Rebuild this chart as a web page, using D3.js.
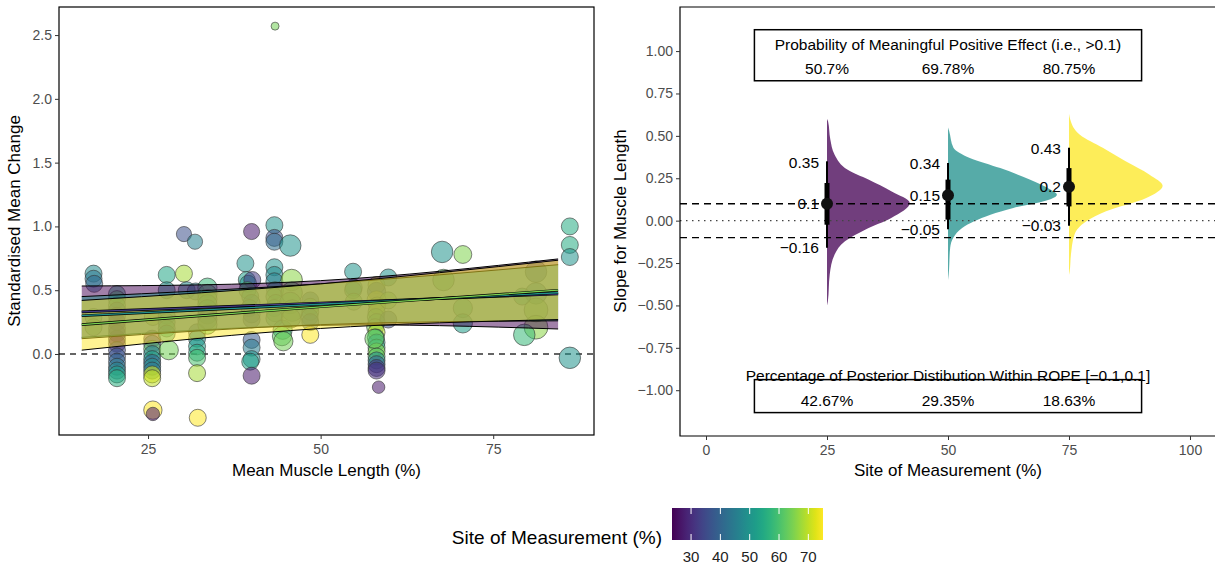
<!DOCTYPE html>
<html>
<head>
<meta charset="utf-8">
<script src="https://cdn.jsdelivr.net/npm/d3@7"></script>
<style>
  body { margin: 0; background: #fff; }
  svg { font-family: "Liberation Sans", Arial, sans-serif; }
</style>
</head>
<body>
<svg id="chart" width="1215" height="566"></svg>
<script>
// ---- left panel: studies (muscle length %, standardised mean change, site %, weight)
const studyPoints = [
  [17.1, 0.63, 48, 3], [17.1, 0.59, 44, 3], [17.2, 0.55, 41, 3], [17.1, 0.29, 62, 3], [17.1, 0.21, 64, 3],
  [20.5, 0.47, 56, 3], [20.5, 0.43, 60, 3], [20.5, 0.38, 58, 3], [20.5, 0.34, 38, 3], [20.5, 0.30, 30, 3],
  [20.5, 0.25, 26, 3], [20.5, 0.20, 25, 3], [20.5, 0.16, 28, 3], [20.5, 0.12, 25, 3], [20.5, 0.08, 27, 3],
  [20.5, 0.03, 34, 3], [20.5, -0.02, 37, 3], [20.5, -0.06, 40, 3], [20.5, -0.10, 44, 3], [20.5, -0.13, 47, 3],
  [20.5, -0.16, 52, 3], [20.5, -0.19, 56, 3],
  [25.6, 0.12, 27, 3], [25.6, 0.08, 36, 3], [25.6, 0.04, 62, 3], [25.6, 0.00, 45, 3], [25.6, -0.04, 52, 3],
  [25.6, -0.07, 40, 3], [25.6, -0.10, 48, 3], [25.6, -0.13, 44, 3], [25.6, -0.16, 72, 3], [25.6, -0.19, 70, 3],
  [25.7, 0.29, 68, 3], [25.7, -0.44, 75, 3.3], [25.7, -0.47, 27, 2.2],
  [27.7, 0.62, 54, 3], [27.7, 0.50, 50, 3], [27.7, 0.30, 52, 3], [27.7, 0.25, 56, 3], [27.7, 0.20, 58, 3],
  [27.7, 0.16, 50, 3], [28.0, 0.03, 64, 3.5],
  [30.2, 0.63, 68, 3], [30.2, 0.94, 36, 2.6], [31.8, 0.88, 46, 2.6], [30.6, 0.50, 48, 3], [31.9, 0.49, 45, 3],
  [32.1, 0.17, 40, 3], [32.1, 0.12, 48, 3], [32.1, 0.06, 52, 3], [32.1, 0.01, 55, 3], [32.1, -0.03, 60, 3],
  [32.1, -0.15, 68, 3], [32.2, -0.50, 75, 3],
  [33.6, 0.52, 58, 3.5], [33.6, 0.47, 60, 3.5], [33.6, 0.43, 63, 3.5], [33.6, 0.39, 56, 3.5], [33.6, 0.35, 55, 3.5],
  [33.6, 0.31, 40, 3.5], [33.6, 0.27, 35, 3.5], [33.6, 0.23, 62, 3.5],
  [40.0, 0.96, 27, 2.8], [39.1, 0.71, 50, 3], [39.3, 0.58, 52, 3], [39.5, 0.55, 50, 3], [40.1, 0.58, 32, 3],
  [39.4, 0.50, 60, 3], [39.8, 0.45, 55, 3], [40.0, 0.40, 46, 3], [39.7, 0.36, 50, 3], [40.0, 0.31, 40, 3],
  [40.0, 0.27, 35, 3], [40.0, 0.11, 38, 3], [40.0, 0.05, 45, 3], [40.0, -0.04, 50, 3], [39.8, -0.06, 53, 3],
  [40.0, -0.17, 27, 3],
  [43.3, 1.01, 50, 3], [43.3, 0.91, 36, 3], [43.3, 0.88, 42, 3], [45.6, 0.85, 50, 4], [43.4, 2.57, 64, 1],
  [43.3, 0.68, 50, 3], [43.3, 0.62, 48, 3], [43.3, 0.57, 46, 3], [43.4, 0.50, 55, 3], [43.3, 0.45, 60, 3],
  [43.5, 0.40, 58, 3], [43.3, 0.36, 52, 3], [43.4, 0.32, 62, 3], [43.3, 0.28, 56, 3],
  [44.5, 0.19, 56, 3.5], [44.4, 0.14, 62, 3.5], [44.6, 0.10, 64, 3.5],
  [45.8, 0.58, 66, 4], [45.8, 0.48, 62, 4], [45.6, 0.40, 60, 4], [45.9, 0.34, 58, 4], [45.7, 0.28, 64, 3.5],
  [48.5, 0.42, 40, 3], [48.5, 0.37, 62, 3], [48.5, 0.33, 60, 3], [48.4, 0.29, 45, 3], [48.5, 0.25, 38, 3],
  [48.5, 0.15, 75, 3],
  [54.7, 0.645, 50, 3], [54.8, 0.52, 48, 3], [54.7, 0.50, 55, 3], [54.8, 0.41, 62, 3],
  [58.1, 0.54, 72, 3], [58.1, 0.49, 35, 3.3], [58.1, 0.42, 75, 3.5], [58.2, 0.38, 70, 3], [58.1, 0.33, 66, 3],
  [58.0, 0.29, 62, 3], [58.1, 0.25, 60, 3], [57.9, 0.21, 64, 3], [58.1, 0.17, 70, 3], [58.0, 0.13, 55, 3],
  [58.1, 0.09, 50, 3], [58.1, 0.05, 58, 3], [58.1, 0.02, 66, 3], [58.1, -0.02, 62, 3], [58.1, -0.05, 48, 3],
  [58.1, -0.08, 40, 3], [58.1, -0.11, 32, 3], [58.1, -0.13, 30, 3], [58.4, -0.26, 27, 2], [57.8, 0.12, 63, 3.5],
  [59.8, 0.60, 50, 3], [59.8, 0.42, 64, 3], [59.8, 0.27, 36, 3],
  [67.6, 0.80, 50, 4], [70.6, 0.78, 65, 3.2], [67.8, 0.58, 62, 4], [70.6, 0.36, 58, 3.5], [70.6, 0.24, 52, 3.5],
  [81.2, 0.645, 38, 4], [81.2, 0.475, 45, 4], [81.2, 0.345, 64, 4.5], [81.2, 0.21, 66, 4.5], [79.2, 0.45, 55, 3],
  [79.5, 0.15, 58, 4],
  [86.1, 1.00, 55, 3], [86.1, 0.855, 55, 3], [86.1, 0.76, 50, 3], [86.1, -0.03, 50, 4]
];

// model predictions at three sites of measurement
const bandLength = [15.4, 50, 84.4];
const bandSites = [25, 50, 75];
const bandMean = [[0.33, 0.40, 0.47], [0.30, 0.39, 0.48], [0.23, 0.37, 0.50]];
const bandUpper = [[0.533, 0.575, 0.745], [0.45, 0.55, 0.70], [0.42, 0.55, 0.735]];
const bandLower = [[0.13, 0.225, 0.196], [0.12, 0.23, 0.26], [0.03, 0.20, 0.27]];

// ---- right panel: posterior slopes at each site
const siteLevels = [25, 50, 75];
const slopeMedian = [0.1, 0.15, 0.2];
const slopeLow66 = [-0.024, 0.006, 0.084];
const slopeHigh66 = [0.222, 0.242, 0.31];
const slopeLow95 = [-0.16, -0.05, -0.03];
const slopeHigh95 = [0.35, 0.34, 0.43];
// [slope, relative density]
const slopeDensity = [
  [[0.60, 0], [0.585, 0.01], [0.48, 0.03], [0.389, 0.07], [0.30, 0.19], [0.242, 0.38], [0.173, 0.59],
   [0.104, 0.76], [0.016, 0.59], [-0.053, 0.35], [-0.122, 0.165], [-0.20, 0.07], [-0.318, 0.025], [-0.476, 0.008], [-0.50, 0]],
  [[0.55, 0], [0.53, 0.01], [0.43, 0.05], [0.37, 0.2], [0.31, 0.48], [0.242, 0.75], [0.183, 0.94], [0.153, 1.0],
   [0.114, 0.88], [0.075, 0.6], [0.035, 0.39], [-0.004, 0.24], [-0.043, 0.13], [-0.10, 0.05], [-0.16, 0.02], [-0.318, 0.006], [-0.35, 0]],
  [[0.63, 0], [0.60, 0.01], [0.507, 0.1], [0.43, 0.31], [0.35, 0.52], [0.271, 0.74], [0.206, 0.86], [0.134, 0.71],
   [0.055, 0.34], [-0.004, 0.16], [-0.083, 0.05], [-0.20, 0.018], [-0.30, 0.006], [-0.32, 0]]
];
const probPositive = ["50.7%", "69.78%", "80.75%"];
const ropeShare = ["42.67%", "29.35%", "18.63%"];

const leftYTicks = [0, 0.5, 1.0, 1.5, 2.0, 2.5];
const leftXTicks = [25, 50, 75];
const rightYTicks = [-1, -0.75, -0.5, -0.25, 0, 0.25, 0.5, 0.75, 1];
const rightXTicks = [0, 25, 50, 75, 100];
const legendTicks = [30, 40, 50, 60, 70];
const siteRange = [23.5, 75];

const svg = d3.select("#chart");
const siteColor = d3.scaleSequential(d3.interpolateViridis).domain(siteRange);
const bandColors = ["#440154", "#21908C", "#FDE725"];
const meanColors = ["#443A83", "#21908C", "#7AD151"];
const distColors = ["#440154", "#21908C", "#FDE725"];
const minus = s => String(s).replace("-", "\u2212");

function styleAxis(g) {
  g.select(".domain").remove();
  g.selectAll(".tick line").attr("stroke", "#333");
  g.selectAll(".tick text").attr("fill", "#4d4d4d").style("font-size", "14px");
}

// ================= LEFT PANEL =================
const xL = d3.scaleLinear().domain([12.1, 89.6]).range([59, 594]);
const yL = d3.scaleLinear().domain([-0.635, 2.72]).range([435, 7]);
const rL = d3.scaleLinear().domain([1, 5]).range([4, 13]);

const left = svg.append("g");

left.append("line")
  .attr("x1", 59).attr("x2", 594)
  .attr("y1", yL(0)).attr("y2", yL(0))
  .attr("stroke", "#333").attr("stroke-width", 1.4)
  .attr("stroke-dasharray", "6,5");

left.selectAll(".pt")
  .data(studyPoints)
  .enter().append("circle")
  .attr("class", "pt")
  .attr("cx", d => xL(d[0]))
  .attr("cy", d => yL(d[1]))
  .attr("r", d => rL(d[3]))
  .attr("fill", d => siteColor(d[2]))
  .attr("fill-opacity", 0.55)
  .attr("stroke", "#333")
  .attr("stroke-opacity", 0.6)
  .attr("stroke-width", 1);

bandSites.forEach((s, i) => {
  const rows = bandLength.map((len, j) => ({ len, lo: bandLower[i][j], hi: bandUpper[i][j], m: bandMean[i][j] }));
  const area = d3.area().curve(d3.curveNatural)
    .x(d => xL(d.len)).y0(d => yL(d.lo)).y1(d => yL(d.hi));
  left.append("path").datum(rows)
    .attr("d", area)
    .attr("fill", bandColors[i])
    .attr("fill-opacity", 0.5);
  ["lo", "hi"].forEach(k => {
    left.append("path").datum(rows)
      .attr("d", d3.line().curve(d3.curveNatural).x(d => xL(d.len)).y(d => yL(d[k])))
      .attr("fill", "none").attr("stroke", "#000").attr("stroke-width", 1);
  });
});
bandSites.forEach((s, i) => {
  const rows = bandLength.map((len, j) => ({ len, m: bandMean[i][j] }));
  const line = d3.line().curve(d3.curveNatural).x(d => xL(d.len)).y(d => yL(d.m));
  left.append("path").datum(rows).attr("d", line)
    .attr("fill", "none").attr("stroke", "#000").attr("stroke-width", 2.6);
  left.append("path").datum(rows).attr("d", line)
    .attr("fill", "none").attr("stroke", meanColors[i]).attr("stroke-width", 1.3);
});

left.append("rect")
  .attr("x", 59).attr("y", 7).attr("width", 535).attr("height", 428)
  .attr("fill", "none").attr("stroke", "#000").attr("stroke-width", 1.2);

left.append("g")
  .attr("transform", "translate(0,435)")
  .call(d3.axisBottom(xL).tickValues(leftXTicks).tickSize(4).tickPadding(5))
  .call(styleAxis);
left.append("g")
  .attr("transform", "translate(59,0)")
  .call(d3.axisLeft(yL).tickValues(leftYTicks).tickSize(4).tickPadding(3).tickFormat(d3.format(".1f")))
  .call(styleAxis);

left.append("text")
  .attr("x", 326.5).attr("y", 476)
  .attr("text-anchor", "middle").style("font-size", "17px")
  .text("Mean Muscle Length (%)");
left.append("text")
  .attr("transform", "translate(20,221) rotate(-90)")
  .attr("text-anchor", "middle").style("font-size", "17px")
  .text("Standardised Mean Change");

// ================= RIGHT PANEL =================
const xR = d3.scaleLinear().domain([-5.375, 105.375]).range([680, 1216]);
const yR = d3.scaleLinear().domain([-1.27, 1.26]).range([436, 7]);
const halfWidth = 22.5; // site units for relative density 1

const right = svg.append("g");

slopeDensity.forEach((dens, i) => {
  const s = siteLevels[i];
  const area = d3.area().curve(d3.curveMonotoneY)
    .y(d => yR(d[0]))
    .x0(xR(s))
    .x1(d => xR(s + d[1] * halfWidth));
  right.append("path").datum(dens)
    .attr("d", area)
    .attr("fill", distColors[i])
    .attr("fill-opacity", 0.76);
});

[0.1, -0.1].forEach(v => {
  right.append("line")
    .attr("x1", 680).attr("x2", 1216).attr("y1", yR(v)).attr("y2", yR(v))
    .attr("stroke", "#000").attr("stroke-width", 1.4).attr("stroke-dasharray", "7,5");
});
right.append("line")
  .attr("x1", 680).attr("x2", 1216).attr("y1", yR(0)).attr("y2", yR(0))
  .attr("stroke", "#444").attr("stroke-width", 1.4).attr("stroke-dasharray", "1.5,4.5");

siteLevels.forEach((s, i) => {
  const cx = xR(s);
  right.append("line")
    .attr("x1", cx).attr("x2", cx)
    .attr("y1", yR(slopeLow95[i])).attr("y2", yR(slopeHigh95[i]))
    .attr("stroke", "#000").attr("stroke-width", 2);
  right.append("line")
    .attr("x1", cx).attr("x2", cx)
    .attr("y1", yR(slopeLow66[i])).attr("y2", yR(slopeHigh66[i]))
    .attr("stroke", "#000").attr("stroke-width", 5);
  right.append("circle")
    .attr("cx", cx).attr("cy", yR(slopeMedian[i])).attr("r", 6)
    .attr("fill", "#111");
  [[slopeHigh95[i], 1], [slopeMedian[i], 0], [slopeLow95[i], 0]].forEach(([v, dy]) => {
    right.append("text")
      .attr("x", cx - 8).attr("y", yR(v) + dy)
      .attr("dy", "0.35em")
      .attr("text-anchor", "end").style("font-size", "15.5px")
      .text(minus(+v.toFixed(2)));
  });
});

// annotation boxes
const boxes = [
  { top: 1.126, bottom: 0.825, titleY: 1.038, valY: 0.896,
    title: "Probability of Meaningful Positive Effect (i.e., >0.1)", vals: probPositive },
  { top: -0.9375, bottom: -1.132, titleY: -0.914, valY: -1.061,
    title: "Percentage of Posterior Distibution Within ROPE [\u22120.1,0.1]", vals: ropeShare }
];
boxes.forEach(b => {
  right.append("rect")
    .attr("x", xR(10)).attr("y", yR(b.top))
    .attr("width", xR(90) - xR(10)).attr("height", yR(b.bottom) - yR(b.top))
    .attr("fill", "#fff").attr("stroke", "#000").attr("stroke-width", 1.5);
  right.append("text")
    .attr("x", xR(50)).attr("y", yR(b.titleY)).attr("dy", "0.35em")
    .attr("text-anchor", "middle").style("font-size", "15.5px")
    .text(b.title);
  b.vals.forEach((v, i) => {
    right.append("text")
      .attr("x", xR(siteLevels[i])).attr("y", yR(b.valY)).attr("dy", "0.35em")
      .attr("text-anchor", "middle").style("font-size", "15.5px")
      .text(v);
  });
});

right.append("path")
  .attr("d", `M1216,7H680V436H1216`)
  .attr("fill", "none").attr("stroke", "#000").attr("stroke-width", 1.2);

right.append("g")
  .attr("transform", "translate(0,436)")
  .call(d3.axisBottom(xR).tickValues(rightXTicks).tickSize(4).tickPadding(5))
  .call(styleAxis);
right.append("g")
  .attr("transform", "translate(680,0)")
  .call(d3.axisLeft(yR).tickValues(rightYTicks).tickSize(4).tickPadding(3).tickFormat(d => minus(d3.format(".2f")(d))))
  .call(styleAxis);

right.append("text")
  .attr("x", 948).attr("y", 476)
  .attr("text-anchor", "middle").style("font-size", "17px")
  .text("Site of Measurement (%)");
right.append("text")
  .attr("transform", "translate(626,221) rotate(-90)")
  .attr("text-anchor", "middle").style("font-size", "17px")
  .text("Slope for Muscle Length");

// ================= LEGEND =================
const lx = d3.scaleLinear().domain(siteRange).range([672, 823]);
const grad = svg.append("defs").append("linearGradient").attr("id", "vir");
d3.range(0, 1.0001, 0.05).forEach(t => {
  grad.append("stop").attr("offset", t).attr("stop-color", d3.interpolateViridis(t));
});
const legend = svg.append("g");
legend.append("rect")
  .attr("x", lx(siteRange[0])).attr("y", 508)
  .attr("width", lx(siteRange[1]) - lx(siteRange[0])).attr("height", 32)
  .attr("fill", "url(#vir)");
legendTicks.forEach(t => {
  legend.append("line").attr("x1", lx(t)).attr("x2", lx(t)).attr("y1", 508).attr("y2", 514)
    .attr("stroke", "#fff").attr("stroke-width", 1);
  legend.append("line").attr("x1", lx(t)).attr("x2", lx(t)).attr("y1", 534).attr("y2", 540)
    .attr("stroke", "#fff").attr("stroke-width", 1);
  legend.append("text").attr("x", lx(t)).attr("y", 562)
    .attr("text-anchor", "middle").attr("fill", "#222").style("font-size", "15px")
    .text(t);
});
legend.append("text")
  .attr("x", 662).attr("y", 544)
  .attr("text-anchor", "end").style("font-size", "19px")
  .text("Site of Measurement (%)");
</script>
</body>
</html>
